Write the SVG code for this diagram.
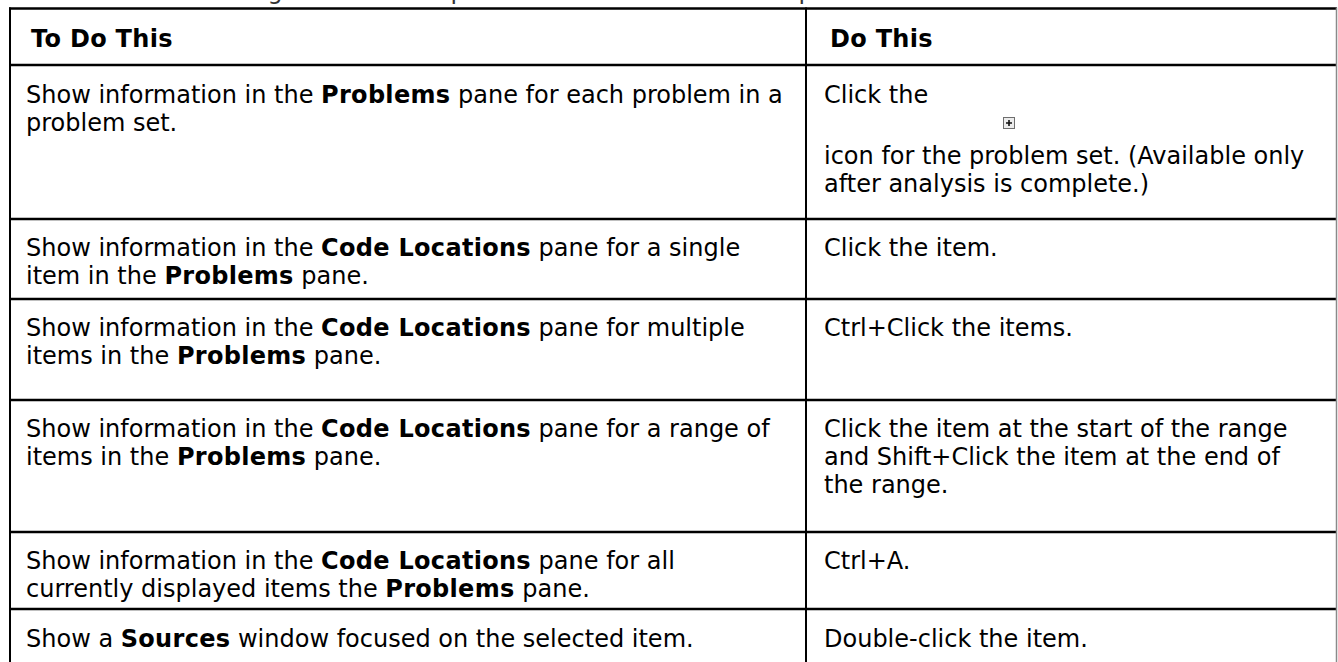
<svg xmlns="http://www.w3.org/2000/svg" width="1338" height="662" viewBox="0 0 1338 662">
  <style>
    .t { font-family: "DejaVu Sans", Verdana, sans-serif; font-size: 24px; fill: #000; }
    .b { font-weight: bold; letter-spacing: 0.3px; }
    .intro { fill: #333; }
    .rule { stroke: #000; stroke-width: 2.5; fill: none; }
    .vrule { stroke: #000; stroke-width: 2; fill: none; }
    .edge { stroke: #8a8a8a; stroke-width: 1.5; fill: none; }
  </style>
  <defs>
    <!-- small "expand" button used inline in the first row -->
    <g id="expand-icon">
      <rect x="0.5" y="0.5" width="11" height="11" fill="#ececec" stroke="#6e6e6e" stroke-width="1"/>
      <path d="M3 6H9M6 3V9" stroke="#111" stroke-width="1.6"/>
    </g>
  </defs>
  <rect width="1338" height="662" fill="#fff"/>

  <!-- introductory sentence, scrolled mostly out of view -->
  <text class="t intro" x="26" y="-1.5">Perform the following actions to inspect items in the <tspan class="b">Problems</tspan> pane:</text>

  <!-- table grid -->
  <g id="grid">
    <line class="rule" x1="9" y1="8.5" x2="1337" y2="8.5"/>
    <line class="rule" x1="9" y1="65" x2="1337" y2="65"/>
    <line class="rule" x1="9" y1="219" x2="1337" y2="219"/>
    <line class="rule" x1="9" y1="299" x2="1337" y2="299"/>
    <line class="rule" x1="9" y1="400" x2="1337" y2="400"/>
    <line class="rule" x1="9" y1="532" x2="1337" y2="532"/>
    <line class="rule" x1="9" y1="609" x2="1337" y2="609"/>
    <line class="vrule" x1="10" y1="7.5" x2="10" y2="662"/>
    <line class="vrule" x1="806" y1="7.5" x2="806" y2="662"/>
    <line class="edge" x1="1336.5" y1="7.5" x2="1336.5" y2="662"/>
  </g>

  <g id="header">
    <text class="t b" x="31" y="47">To Do This</text>
    <text class="t b" x="830" y="47">Do This</text>
  </g>

  <g id="row1">
    <text class="t" x="26" y="103">Show information in the <tspan class="b">Problems</tspan> pane for each problem in a</text>
    <text class="t" x="26" y="131">problem set.</text>
    <text class="t" x="824" y="103">Click the</text>
    <use href="#expand-icon" x="1003" y="117"/>
    <text class="t" x="824" y="164">icon for the problem set. (Available only</text>
    <text class="t" x="824" y="192">after analysis is complete.)</text>
  </g>

  <g id="row2">
    <text class="t" x="26" y="256">Show information in the <tspan class="b">Code Locations</tspan> pane for a single</text>
    <text class="t" x="26" y="284">item in the <tspan class="b">Problems</tspan> pane.</text>
    <text class="t" x="824" y="256">Click the item.</text>
  </g>

  <g id="row3">
    <text class="t" x="26" y="336">Show information in the <tspan class="b">Code Locations</tspan> pane for multiple</text>
    <text class="t" x="26" y="364">items in the <tspan class="b">Problems</tspan> pane.</text>
    <text class="t" x="824" y="336">Ctrl+Click the items.</text>
  </g>

  <g id="row4">
    <text class="t" x="26" y="437">Show information in the <tspan class="b">Code Locations</tspan> pane for a range of</text>
    <text class="t" x="26" y="465">items in the <tspan class="b">Problems</tspan> pane.</text>
    <text class="t" x="824" y="437">Click the item at the start of the range</text>
    <text class="t" x="824" y="465">and Shift+Click the item at the end of</text>
    <text class="t" x="824" y="493">the range.</text>
  </g>

  <g id="row5">
    <text class="t" x="26" y="569">Show information in the <tspan class="b">Code Locations</tspan> pane for all</text>
    <text class="t" x="26" y="597">currently displayed items the <tspan class="b">Problems</tspan> pane.</text>
    <text class="t" x="824" y="569">Ctrl+A.</text>
  </g>

  <g id="row6">
    <text class="t" x="26" y="647">Show a <tspan class="b">Sources</tspan> window focused on the selected item.</text>
    <text class="t" x="824" y="647">Double-click the item.</text>
  </g>
</svg>
